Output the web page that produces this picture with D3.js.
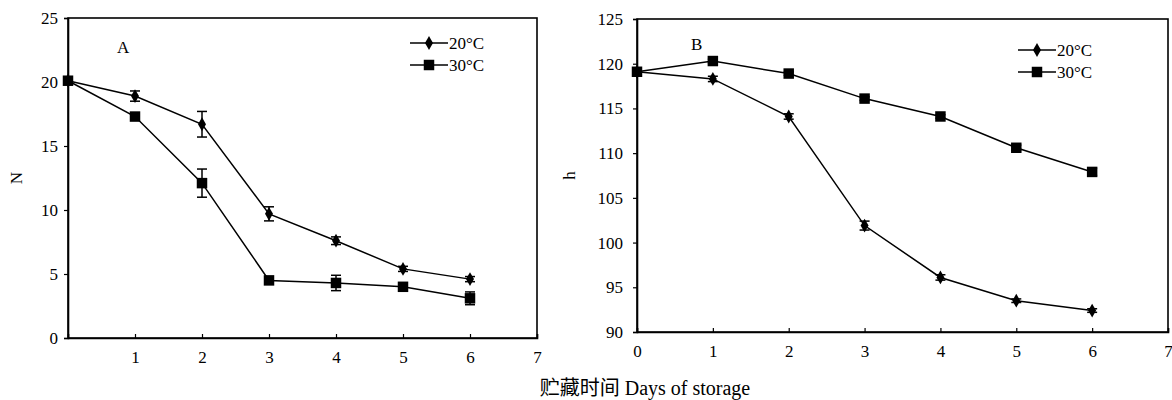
<!DOCTYPE html>
<html>
<head>
<meta charset="utf-8">
<script src="https://cdn.jsdelivr.net/npm/d3@7/dist/d3.min.js"></script>
<style>
  body { margin: 0; background: #fff; }
</style>
</head>
<body>
<div id="chart"></div>
<script>
const FONT = "'Liberation Serif', 'DejaVu Serif', 'Noto Sans CJK SC', serif";
const days = [0, 1, 2, 3, 4, 5, 6];

// panel A (N)
const nA20 = [20.1, 18.9, 16.7, 9.7, 7.6, 5.4, 4.6];
const nA20Err = [0.2, 0.4, 1.0, 0.55, 0.3, 0.2, 0.2];
const nA30 = [20.1, 17.3, 12.1, 4.5, 4.3, 4.0, 3.1];
const nA30Err = [0.2, 0.2, 1.1, 0.3, 0.6, 0.3, 0.5];

// panel B (h)
const hB20 = [119.1, 118.3, 114.1, 101.9, 96.1, 93.5, 92.4];
const hB20Err = [0.2, 0.3, 0.3, 0.5, 0.3, 0.2, 0.2];
const hB30 = [119.1, 120.3, 118.9, 116.1, 114.1, 110.6, 107.9];
const hB30Err = [0.2, 0.2, 0.2, 0.2, 0.2, 0.3, 0.4];

const seriesNames = ["20°C", "30°C"];
const yTicksA = [0, 5, 10, 15, 20, 25];
const yTicksB = [90, 95, 100, 105, 110, 115, 120, 125];
const xTicksA = [1, 2, 3, 4, 5, 6, 7];
const xTicksB = [0, 1, 2, 3, 4, 5, 6, 7];

const svg = d3.select("#chart").append("svg")
    .attr("width", 1172)
    .attr("height", 400)
    .attr("font-family", FONT);

function drawPanel(cfg) {
    const x = d3.scaleLinear().domain([0, 7]).range([cfg.left, cfg.right]);
    const y = d3.scaleLinear().domain(cfg.yDomain).range([cfg.bottom, cfg.top]);
    const g = svg.append("g");

    // frame
    g.append("rect")
     .attr("x", cfg.left).attr("y", cfg.top)
     .attr("width", cfg.right - cfg.left).attr("height", cfg.bottom - cfg.top)
     .attr("fill", "none").attr("stroke", "#000").attr("stroke-width", 1.6);

    const yAxis = g.append("g")
        .attr("transform", `translate(${cfg.left},0)`)
        .call(d3.axisLeft(y).tickValues(cfg.yTicks).tickFormat(d3.format("d"))
              .tickSize(4).tickPadding(cfg.yPad));
    const xAxis = g.append("g")
        .attr("transform", `translate(0,${cfg.bottom})`)
        .call(d3.axisBottom(x).tickValues(cfg.xTicks).tickFormat(d3.format("d"))
              .tickSize(-4).tickPadding(13));
    [xAxis, yAxis].forEach(a => {
        a.attr("font-family", FONT).attr("font-size", 17);
        a.select(".domain").attr("stroke", "#000").attr("stroke-width", 1.6);
        a.selectAll(".tick line").attr("stroke", "#000").attr("stroke-width", 1.2);
        a.selectAll(".tick text").attr("fill", "#000");
    });
    xAxis.selectAll(".tick text").attr("dy", "0.71em");

    // y title
    g.append("text")
     .attr("transform", `translate(${cfg.yTitleX},${(cfg.top + cfg.bottom) / 2}) rotate(-90)`)
     .attr("text-anchor", "middle")
     .attr("font-size", 17)
     .text(cfg.yTitle);

    // panel letter
    g.append("text")
     .attr("x", cfg.letterX).attr("y", cfg.letterY)
     .attr("font-size", 17)
     .text(cfg.letter);

    const line = d3.line().x((d, i) => x(days[i])).y(d => y(d));

    cfg.series.forEach((s, k) => {
        g.append("path")
         .datum(s.values)
         .attr("fill", "none").attr("stroke", "#000").attr("stroke-width", 1.5)
         .attr("d", line);

        // error bars
        const eb = g.append("g");
        s.values.forEach((v, i) => {
            const cx = x(days[i]);
            const y1 = y(v + s.err[i]), y2 = y(v - s.err[i]);
            eb.append("line").attr("x1", cx).attr("x2", cx).attr("y1", y1).attr("y2", y2)
              .attr("stroke", "#000").attr("stroke-width", 1.5);
            [y1, y2].forEach(yy => eb.append("line")
              .attr("x1", cx - 5).attr("x2", cx + 5).attr("y1", yy).attr("y2", yy)
              .attr("stroke", "#000").attr("stroke-width", 1.5));
        });

        const sym = k === 0 ? d3.symbolDiamond : d3.symbolSquare;
        const size = k === 0 ? 55 : 110;
        g.append("g").selectAll("path")
         .data(s.values)
         .join("path")
         .attr("transform", (d, i) => `translate(${x(days[i])},${y(d)})`)
         .attr("d", d3.symbol(sym, size))
         .attr("fill", "#000");

        // legend
        const ly = cfg.legY + k * 22;
        g.append("line")
         .attr("x1", cfg.legX).attr("x2", cfg.legX + 38)
         .attr("y1", ly).attr("y2", ly)
         .attr("stroke", "#000").attr("stroke-width", 1.5);
        g.append("path")
         .attr("transform", `translate(${cfg.legX + 19},${ly})`)
         .attr("d", d3.symbol(sym, size))
         .attr("fill", "#000");
        g.append("text")
         .attr("x", cfg.legX + 39).attr("y", ly)
         .attr("dy", "0.35em")
         .attr("font-size", 17)
         .text(seriesNames[k]);
    });
}

drawPanel({
    left: 68, right: 537, top: 18, bottom: 338,
    yDomain: [0, 25], yTicks: yTicksA, xTicks: xTicksA, yPad: 6,
    yTitle: "N", yTitleX: 22, letter: "A", letterX: 117, letterY: 53,
    legX: 410, legY: 43,
    series: [{ values: nA20, err: nA20Err }, { values: nA30, err: nA30Err }]
});

drawPanel({
    left: 637, right: 1168, top: 19, bottom: 332,
    yDomain: [90, 125], yTicks: yTicksB, xTicks: xTicksB, yPad: 10,
    yTitle: "h", yTitleX: 575, letter: "B", letterX: 691, letterY: 50,
    legX: 1018, legY: 50,
    series: [{ values: hB20, err: hB20Err }, { values: hB30, err: hB30Err }]
});

svg.append("text")
   .attr("x", 645).attr("y", 395)
   .attr("text-anchor", "middle")
   .attr("font-size", 20)
   .text("贮藏时间 Days of storage");
</script>
</body>
</html>
